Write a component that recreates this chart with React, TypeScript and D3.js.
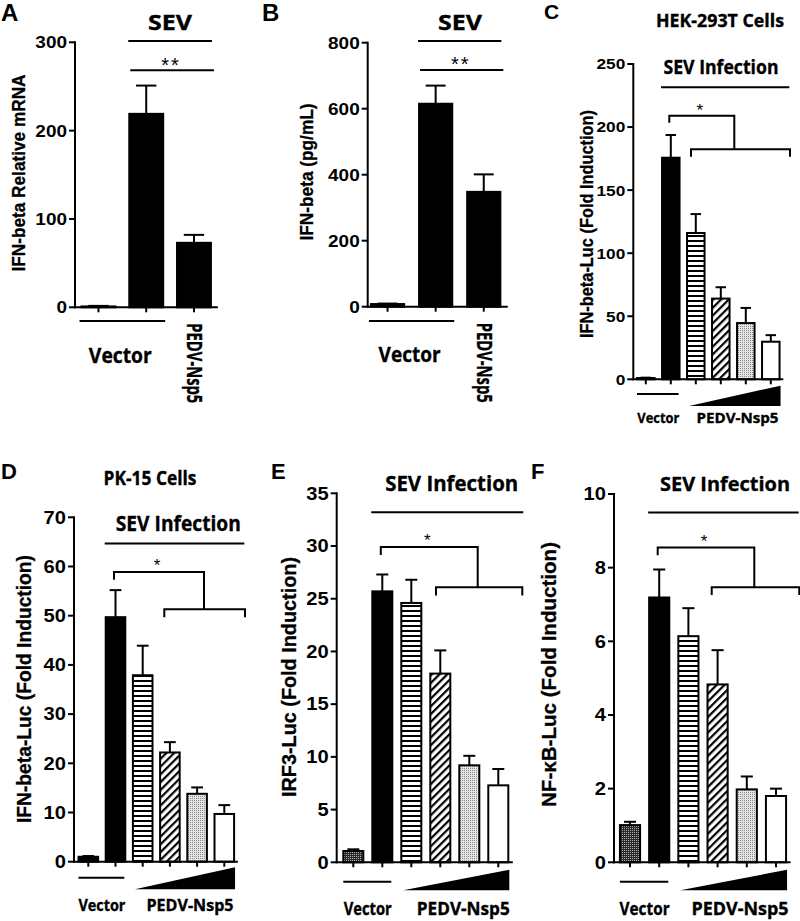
import React from "react";
import * as d3 from "d3";

// ---------- data ----------
const groupsAB = ["Vector", "SEV", "PEDV-Nsp5"];
const panelAValues = [1, 219, 73];
const panelASem = [0.6, 32, 9];
const panelATicks = [0, 100, 200, 300];

const panelBValues = [8, 615, 348];
const panelBSem = [1.5, 55, 53];
const panelBTicks = [0, 200, 400, 600, 800];

const groupsCF = ["Vector", "SEV", "Nsp5-low", "Nsp5-mid", "Nsp5-high", "Nsp5-max"];
const panelCValues = [1, 175.7, 116, 64, 44.6, 29.8];
const panelCSem = [0.3, 18, 15, 9, 12, 5.2];
const panelCTicks = [0, 50, 100, 150, 200, 250];

const panelDValues = [1.0, 49.7, 37.9, 22.2, 13.8, 9.7];
const panelDSem = [0.15, 5.5, 6, 2.1, 1.3, 1.8];
const panelDTicks = [0, 10, 20, 30, 40, 50, 60, 70];

const panelEValues = [1.07, 25.7, 24.6, 17.9, 9.2, 7.3];
const panelESem = [0.16, 1.6, 2.2, 2.2, 0.9, 1.55];
const panelETicks = [0, 5, 10, 15, 20, 25, 30, 35];

const panelFValues = [1.01, 7.19, 6.14, 4.83, 1.98, 1.8];
const panelFSem = [0.09, 0.76, 0.76, 0.93, 0.35, 0.2];
const panelFTicks = [0, 2, 4, 6, 8, 10];

const fillsAB = ["#000", "#000", "#000"];
const fillsCD = ["#000", "#000", "url(#hstripe)", "url(#diag)", "url(#stipple)", "#fff"];
const fillsEF = ["url(#checker)", "#000", "url(#hstripe)", "url(#diag)", "url(#stipple)", "#fff"];

const ARIAL = "'Liberation Sans', Arial, Helvetica, sans-serif";
const CAL = "'Open Sans', Lato, sans-serif";

type Cfg = {
  groups: string[];
  values: number[];
  sem: number[];
  ticks: number[];
  fills: string[];
  axisX: number;
  y0: number;
  yTop: number;
  yMax: number;
  bandStart: number;
  step: number;
  pad: number;
  tickFont: number;
  tickStretch: number;
  yTitle: string;
  yTitleX: number;
  yTitleY: number;
  yTitleFont: number;
  yTitleLen: number;
  annot: (x: d3.ScaleBand<string>, y: d3.ScaleLinear<number, number>, c: Cfg) => React.ReactNode;
};

function Bars({ c }: { c: Cfg }) {
  const n = c.groups.length;
  const x = d3
    .scaleBand<string>()
    .domain(c.groups)
    .range([c.bandStart, c.bandStart + n * c.step])
    .paddingInner(c.pad)
    .paddingOuter(c.pad / 2);
  const y = d3.scaleLinear().domain([0, c.yMax]).range([c.y0, c.yTop]);
  const bw = x.bandwidth();
  const end = c.bandStart + n * c.step;
  return (
    <g>
      {c.groups.map((g, i) => {
        const xl = x(g)!;
        const cx = xl + bw / 2;
        const top = y(c.values[i]);
        const et = y(c.values[i] + c.sem[i]);
        const cap = bw * 0.3;
        return (
          <g key={g}>
            <rect x={xl} y={top} width={bw} height={c.y0 - top} fill={c.fills[i]} stroke="#000" strokeWidth={2} />
            <line x1={cx} x2={cx} y1={top} y2={et} stroke="#000" strokeWidth={2} />
            <line x1={cx - cap} x2={cx + cap} y1={et} y2={et} stroke="#000" strokeWidth={2} />
            <line x1={cx} x2={cx} y1={c.y0} y2={c.y0 + 5} stroke="#000" strokeWidth={2} />
          </g>
        );
      })}
      <line x1={c.axisX} x2={c.axisX} y1={c.y0 + 1} y2={c.yTop - 1} stroke="#000" strokeWidth={2} />
      <line x1={c.axisX - 1} x2={end} y1={c.y0} y2={c.y0} stroke="#000" strokeWidth={2} />
      {c.ticks.map((t) => (
        <g key={t}>
          <line x1={c.axisX - 6} x2={c.axisX} y1={y(t)} y2={y(t)} stroke="#000" strokeWidth={2} />
          <text
            transform={`translate(${c.axisX - 8},${y(t)}) scale(${c.tickStretch},1)`}
            dy="0.36em"
            textAnchor="end"
            fontFamily={ARIAL}
            fontWeight="bold"
            fontSize={c.tickFont}
          >
            {t}
          </text>
        </g>
      ))}
      <text
        transform={`translate(${c.yTitleX},${c.yTitleY}) rotate(-90)`}
        textAnchor="middle"
        fontFamily={ARIAL}
        fontWeight="bold"
        fontSize={c.yTitleFont}
        textLength={c.yTitleLen}
        lengthAdjust="spacingAndGlyphs"
        stroke="#000"
        strokeWidth={0.3}
      >
        {c.yTitle}
      </text>
      {c.annot(x, y, c)}
    </g>
  );
}

const L = (p: { x1: number; x2: number; y1: number; y2: number }) => (
  <line {...p} stroke="#000" strokeWidth={2} strokeLinecap="square" />
);

const Star = ({ x, y, s, n = 1, f = 16 }: { x: number; y: number; s?: string; n?: number; f?: number }) => (
  <text x={x} y={y + 0.58 * f} textAnchor="middle" fontFamily={ARIAL} fontSize={f} letterSpacing={n > 1 ? 2 : 0}>
    {s ?? "*"}
  </text>
);

const CText = ({ x, y, t, f, len }: { x: number; y: number; t: string; f: number; len: number }) => (
  <text
    x={x}
    y={y}
    textAnchor="middle"
    fontFamily={CAL}
    fontWeight="bold"
    fontSize={f}
    textLength={len}
    lengthAdjust="spacingAndGlyphs"
    stroke="#000"
    strokeWidth={0.35}
  >
    {t}
  </text>
);

function annotAB(sevX: number, lineY1: number, lineY2: number, starY: number, underY: number, vecY: number, vecLen: number, pedvX: number, pedvLen: number) {
  return (x: d3.ScaleBand<string>, y: d3.ScaleLinear<number, number>, c: Cfg) => {
    const bw = x.bandwidth();
    const g = c.groups;
    const l2 = x(g[1])!;
    const r3 = x(g[2])! + bw;
    const l1 = x(g[0])!;
    const r2 = x(g[1])! + bw;
    return (
      <g>
        <CText x={sevX} y={30} t="SEV" f={21} len={44} />
        <L x1={l2} x2={r3} y1={y(lineY1)} y2={y(lineY1)} />
        <L x1={l2 + 2} x2={r3 + 2} y1={y(lineY2)} y2={y(lineY2)} />
        <Star x={(l2 + r3) / 2 + 1} y={y(starY)} s="**" n={2} f={20} />
        <L x1={l1 - 1} x2={r2 + 1} y1={c.y0 + underY} y2={c.y0 + underY} />
        <CText x={(l1 + r2) / 2 - 2} y={c.y0 + vecY} t="Vector" f={21} len={vecLen} />
        <text
          transform={`translate(${pedvX},${c.y0 + 16}) rotate(90)`}
          fontFamily={CAL}
          fontWeight="bold"
          fontSize={21}
          textLength={pedvLen}
          lengthAdjust="spacingAndGlyphs"
          stroke="#000"
          strokeWidth={0.35}
        >
          PEDV-Nsp5
        </text>
      </g>
    );
  };
}

type AnnCF = {
  top: number;
  b1: number;
  b1leg: number;
  b2: number;
  b2leg: number;
  star: number;
  b1Right: number;
  b2Left: number;
  b2Right: number;
  topRight: number;
  sevX: number;
  sevY: number;
  sevF: number;
  sevLen: number;
  underDY: number;
  triTop: number;
  triBot: number;
  labDY: number;
  labF: number;
  vecLen: number;
  pedvLen: number;
  pedvX: number;
};

function annotCF(a: AnnCF) {
  return (x: d3.ScaleBand<string>, y: d3.ScaleLinear<number, number>, c: Cfg) => {
    const bw = x.bandwidth();
    const g = c.groups;
    const c2 = x(g[1])! + bw / 2 - 1.5;
    const l1 = x(g[0])!;
    const r2 = x(g[1])! + bw;
    const l3 = x(g[2])!;
    const r6 = x(g[5])! + bw;
    return (
      <g>
        <CText x={a.sevX} y={a.sevY} t="SEV Infection" f={a.sevF} len={a.sevLen} />
        <L x1={x(g[1])!} x2={a.topRight} y1={y(a.top)} y2={y(a.top)} />
        <path
          d={`M${c2},${y(a.b1leg)}V${y(a.b1)}H${a.b1Right}V${y(a.b2)}M${a.b2Left},${y(a.b2leg)}V${y(a.b2)}H${a.b2Right}V${y(a.b2leg)}`}
          fill="none"
          stroke="#000"
          strokeWidth={2}
        />
        <Star x={(c2 + a.b1Right) / 2 - 2} y={y(a.star)} f={17} />
        <L x1={l1 + 1} x2={r2 - 2} y1={c.y0 + a.underDY} y2={c.y0 + a.underDY} />
        <polygon
          points={`${l3 + 2},${c.y0 + a.triBot} ${r6 + 1},${c.y0 + a.triTop} ${r6 + 1},${c.y0 + a.triBot}`}
          fill="#000"
        />
        <CText x={(l1 + r2) / 2} y={c.y0 + a.labDY} t="Vector" f={a.labF} len={a.vecLen} />
        <CText x={a.pedvX} y={c.y0 + a.labDY} t="PEDV-Nsp5" f={a.labF} len={a.pedvLen} />
      </g>
    );
  };
}

const cfgA: Cfg = {
  groups: groupsAB, values: panelAValues, sem: panelASem, ticks: panelATicks, fills: fillsAB,
  axisX: 75, y0: 307.3, yTop: 42.3, yMax: 300, bandStart: 74.6, step: 47.75, pad: 0.29,
  tickFont: 16.5, tickStretch: 1.15,
  yTitle: "IFN-beta Relative mRNA", yTitleX: 25, yTitleY: 173, yTitleFont: 19, yTitleLen: 197,
  annot: annotAB(170, 301.5, 268.3, 279, 13.7, 55.7, 63, 187, 80),
};
const cfgB: Cfg = {
  groups: groupsAB, values: panelBValues, sem: panelBSem, ticks: panelBTicks, fills: fillsAB,
  axisX: 367.7, y0: 306.7, yTop: 42.7, yMax: 800, bandStart: 363.5, step: 48.1, pad: 0.31,
  tickFont: 16.5, tickStretch: 1.15,
  yTitle: "IFN-beta (pg/mL)", yTitleX: 313, yTitleY: 172, yTitleFont: 19, yTitleLen: 137,
  annot: annotAB(460, 805, 717, 748, 14.3, 55.5, 62, 477, 80),
};
const cfgC: Cfg = {
  groups: groupsCF, values: panelCValues, sem: panelCSem, ticks: panelCTicks, fills: fillsCD,
  axisX: 633.3, y0: 379.3, yTop: 64, yMax: 250, bandStart: 633.3, step: 25, pad: 0.3,
  tickFont: 15, tickStretch: 1.15,
  yTitle: "IFN-beta-Luc (Fold Induction)", yTitleX: 593, yTitleY: 224, yTitleFont: 18, yTitleLen: 228,
  annot: annotCF({
    top: 231.6, b1: 209, b1leg: 203.5, b2: 182.4, b2leg: 176.5, star: 216.7,
    b1Right: 734.3, b2Left: 691, b2Right: 790, topRight: 788.3,
    sevX: 721, sevY: 74, sevF: 19, sevLen: 115,
    underDY: 14.7, triTop: 6.4, triBot: 26.7, labDY: 43.4, labF: 15, vecLen: 42, pedvLen: 82, pedvX: 737.5,
  }),
};
const cfgD: Cfg = {
  groups: groupsCF, values: panelDValues, sem: panelDSem, ticks: panelDTicks, fills: fillsCD,
  axisX: 74, y0: 861.7, yTop: 517.3, yMax: 70, bandStart: 74.7, step: 27.2, pad: 0.28,
  tickFont: 17.5, tickStretch: 1.15,
  yTitle: "IFN-beta-Luc (Fold Induction)", yTitleX: 31, yTitleY: 689, yTitleFont: 20.5, yTitleLen: 268,
  annot: annotCF({
    top: 64.7, b1: 58.9, b1leg: 57.3, b2: 51.3, b2leg: 49.7, star: 61,
    b1Right: 204, b2Left: 164.3, b2Right: 245, topRight: 243.3,
    sevX: 178.3, sevY: 531, sevF: 21, sevLen: 125,
    underDY: 16, triTop: 5.6, triBot: 27.6, labDY: 49, labF: 16, vecLen: 47, pedvLen: 87, pedvX: 190,
  }),
};
const cfgE: Cfg = {
  groups: groupsCF, values: panelEValues, sem: panelESem, ticks: panelETicks, fills: fillsEF,
  axisX: 336.7, y0: 862.3, yTop: 493.3, yMax: 35, bandStart: 338.8, step: 29, pad: 0.31,
  tickFont: 17.5, tickStretch: 1.15,
  yTitle: "IRF3-Luc (Fold Induction)", yTitleX: 296, yTitleY: 677, yTitleFont: 21, yTitleLen: 240,
  annot: annotCF({
    top: 33.2, b1: 29.9, b1leg: 29.15, b2: 26.1, b2leg: 25.3, star: 30.9,
    b1Right: 477.7, b2Left: 436, b2Right: 522.3, topRight: 522.3,
    sevX: 451.7, sevY: 491, sevF: 22, sevLen: 133,
    underDY: 19.4, triTop: 7.5, triBot: 28, labDY: 52.7, labF: 17, vecLen: 48, pedvLen: 93, pedvX: 463.3,
  }),
};
const cfgF: Cfg = {
  groups: groupsCF, values: panelFValues, sem: panelFSem, ticks: panelFTicks, fills: fillsEF,
  axisX: 614, y0: 862.3, yTop: 494, yMax: 10, bandStart: 615.4, step: 29.2, pad: 0.31,
  tickFont: 17.5, tickStretch: 1.15,
  yTitle: "NF-\u03baB-Luc (Fold Induction)", yTitleX: 556, yTitleY: 674.5, yTitleFont: 20.5, yTitleLen: 265,
  annot: annotCF({
    top: 9.5, b1: 8.55, b1leg: 8.34, b2: 7.47, b2leg: 7.26, star: 8.84,
    b1Right: 754.3, b2Left: 711.7, b2Right: 799.3, topRight: 797.7,
    sevX: 725, sevY: 491, sevF: 20, sevLen: 130,
    underDY: 19.4, triTop: 7.5, triBot: 28, labDY: 52.7, labF: 17, vecLen: 50, pedvLen: 97, pedvX: 740,
  }),
};

const panels = [cfgA, cfgB, cfgC, cfgD, cfgE, cfgF];

const letters = [
  { t: "A", x: 1, y: 21, f: 24 },
  { t: "B", x: 262, y: 21, f: 24 },
  { t: "C", x: 544, y: 19, f: 21 },
  { t: "D", x: 1, y: 479, f: 22 },
  { t: "E", x: 271, y: 479, f: 22 },
  { t: "F", x: 531, y: 479, f: 22 },
];

export default function App() {
  return (
    <svg
      width={800}
      height={921}
      viewBox="0 0 800 921"
      style={{ position: "absolute", left: 0, top: 0, background: "#fff" }}
    >
      <defs>
        <pattern id="hstripe" patternUnits="userSpaceOnUse" width={6} height={5}>
          <rect width={6} height={5} fill="#fff" />
          <rect y={0} width={6} height={2} fill="#000" />
        </pattern>
        <pattern id="diag" patternUnits="userSpaceOnUse" width={5.5} height={5.5} patternTransform="rotate(45)">
          <rect width={5.5} height={5.5} fill="#fff" />
          <rect x={0} width={2.2} height={5.5} fill="#000" />
        </pattern>
        <pattern id="stipple" patternUnits="userSpaceOnUse" width={2} height={2}>
          <rect width={2} height={2} fill="#e4e4e4" />
          <rect width={1} height={1} fill="#8a8a8a" />
        </pattern>
        <pattern id="checker" patternUnits="userSpaceOnUse" width={2} height={2}>
          <rect width={2} height={2} fill="#2a2a2a" />
          <rect width={1} height={1} fill="#b0b0b0" />
        </pattern>
      </defs>
      <rect width={800} height={921} fill="#fff" />
      {panels.map((c, i) => (
        <Bars key={i} c={c} />
      ))}
      {letters.map((l) => (
        <text key={l.t} x={l.x} y={l.y} fontFamily={ARIAL} fontWeight="bold" fontSize={l.f}>
          {l.t}
        </text>
      ))}
      <CText x={720} y={27} t="HEK-293T Cells" f={18} len={128} />
      <CText x={150} y={485} t="PK-15 Cells" f={20} len={93} />
    </svg>
  );
}
